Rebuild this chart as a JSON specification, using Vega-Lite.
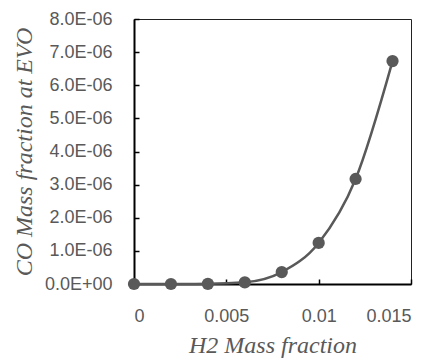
{
  "$schema": "https://vega.github.io/schema/vega-lite/v6.json",
  "width": 277,
  "height": 265,
  "autosize": {"type": "none"},
  "padding": {"left": 134, "top": 19, "right": 26, "bottom": 77},
  "background": "white",
  "config": {
    "view": {"stroke": "#222", "strokeWidth": 1},
    "axis": {
      "grid": false,
      "domainColor": "#000",
      "domainWidth": 2,
      "tickColor": "#000",
      "tickWidth": 1.5,
      "tickSize": -5,
      "labelColor": "#595959",
      "labelFont": "Liberation Sans",
      "labelFontSize": 18,
      "titleColor": "#595959",
      "titleFont": "Liberation Serif",
      "titleFontStyle": "italic",
      "titleFontWeight": "normal",
      "titleFontSize": 24
    }
  },
  "data": {
    "values": [
      {"x": 0, "y": 0.0},
      {"x": 0.002, "y": 0.0},
      {"x": 0.004, "y": 0.005e-6},
      {"x": 0.006, "y": 0.05e-6},
      {"x": 0.008, "y": 0.36e-6},
      {"x": 0.010, "y": 1.24e-6},
      {"x": 0.012, "y": 3.17e-6},
      {"x": 0.014, "y": 6.73e-6}
    ]
  },
  "encoding": {
    "x": {
      "field": "x", "type": "quantitative",
      "scale": {"domain": [0, 0.015], "nice": false, "zero": false},
      "axis": {"values": [0, 0.005, 0.01, 0.015], "format": ".3~f", "labelPadding": 28, "title": "H2 Mass fraction", "titlePadding": 8}
    },
    "y": {
      "field": "y", "type": "quantitative",
      "scale": {"domain": [0, 8e-6], "nice": false},
      "axis": {
        "values": [0, 1e-6, 2e-6, 3e-6, 4e-6, 5e-6, 6e-6, 7e-6, 8e-6],
        "labelExpr": "datum.value == 0 ? '0.0E+00' : format(datum.value * 1000000, '.1f') + 'E-06'",
        "labelPadding": 27,
        "title": "CO Mass fraction at EVO",
        "titlePadding": 8
      }
    }
  },
  "layer": [
    {"mark": {"type": "line", "interpolate": "monotone", "color": "#595959", "strokeWidth": 2.5}},
    {"mark": {"type": "point", "filled": true, "color": "#595959", "opacity": 1, "size": 150}}
  ]
}
